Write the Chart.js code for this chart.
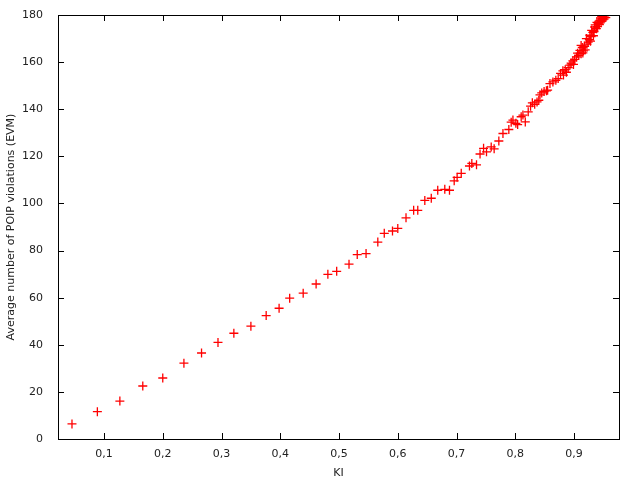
<!DOCTYPE html>
<html>
<head>
<meta charset="utf-8">
<script src="https://cdn.jsdelivr.net/npm/chart.js@4"></script>
<style>
  html, body { margin: 0; padding: 0; background: #fff; }
  #wrap { width: 640px; height: 480px; }
</style>
</head>
<body>
<div id="wrap"><canvas id="chart"></canvas></div>
<script>
// KI values and the average number of POIP violations (EVM)
const kiValues = [
  0.0455, 0.0887, 0.127, 0.166, 0.200, 0.236, 0.266, 0.294, 0.321, 0.350,
  0.376, 0.398, 0.416, 0.439, 0.461, 0.481, 0.496, 0.517, 0.531, 0.546,
  0.566, 0.577, 0.591, 0.600, 0.614, 0.627, 0.634, 0.646, 0.657, 0.668,
  0.680, 0.688, 0.696, 0.701, 0.708, 0.722, 0.726, 0.734, 0.740, 0.746,
  0.751, 0.759, 0.764, 0.772, 0.779, 0.789, 0.793, 0.796, 0.801, 0.804,
  0.810, 0.813, 0.817, 0.822, 0.826, 0.829, 0.833, 0.837, 0.840, 0.842,
  0.845, 0.849, 0.853, 0.855, 0.859, 0.864, 0.869, 0.873, 0.877, 0.881,
  0.882, 0.885, 0.887, 0.890, 0.893, 0.895, 0.898, 0.899, 0.901, 0.904,
  0.906, 0.908, 0.910, 0.912, 0.912, 0.914, 0.915, 0.916, 0.918, 0.919,
  0.921, 0.922, 0.924, 0.926, 0.927, 0.928, 0.929, 0.930, 0.932, 0.933,
  0.934, 0.935, 0.936, 0.938, 0.939, 0.940, 0.941, 0.942, 0.943, 0.944,
  0.945, 0.946, 0.947, 0.948, 0.949, 0.950, 0.951, 0.952, 0.953, 0.954,
  0.955
];
const evmValues = [
  6.4, 11.6, 16.1, 22.5, 25.9, 32.2, 36.5, 41.0, 44.9, 47.9,
  52.4, 55.5, 59.8, 61.9, 65.8, 69.9, 71.2, 74.2, 78.3, 78.7,
  83.6, 87.3, 88.3, 89.4, 93.9, 97.1, 97.1, 101.3, 102.2, 105.6,
  106.0, 105.6, 109.6, 111.1, 112.8, 115.9, 117.0, 116.4, 121.0, 123.4,
  121.9, 124.0, 123.2, 126.5, 129.7, 131.4, 134.5, 135.4, 134.0, 133.5,
  136.8, 137.5, 134.6, 138.9, 141.3, 142.7, 142.1, 143.1, 143.8, 146.1,
  146.9, 147.5, 147.8, 148.1, 150.9, 151.6, 152.3, 153.0, 155.2, 156.3,
  154.5, 156.8, 155.7, 157.7, 158.7, 159.6, 160.5, 159.0, 161.2, 162.2,
  163.8, 162.9, 165.0, 163.6, 167.1, 166.2, 163.9, 164.8, 166.7, 165.2,
  170.0, 167.6, 168.5, 169.5, 171.4, 168.9, 170.8, 173.5, 172.6, 171.2,
  173.0, 174.9, 175.8, 174.2, 176.9, 175.1, 176.3, 177.0, 175.9, 177.7,
  178.8, 177.2, 179.4, 178.5, 177.9, 179.6, 178.3, 179.1, 179.8, 178.9,
  180.0
];
const xTickValues = [0.1, 0.2, 0.3, 0.4, 0.5, 0.6, 0.7, 0.8, 0.9];
const yTickValues = [0, 20, 40, 60, 80, 100, 120, 140, 160, 180];

const textColor = '#222';
const font = { family: 'Verdana, "DejaVu Sans", sans-serif', size: 11 };

// gnuplot-style frame with inward ticks on all four sides
const framePlugin = {
  id: 'frame',
  afterDatasetsDraw(chart) {
    const { ctx, chartArea: a, scales: { x, y } } = chart;
    const len = 6;
    ctx.save();
    ctx.strokeStyle = '#000';
    ctx.lineWidth = 1;
    ctx.beginPath();
    xTickValues.forEach(v => {
      const px = Math.round(x.getPixelForValue(v)) + 0.5;
      ctx.moveTo(px, a.bottom); ctx.lineTo(px, a.bottom - len);
      ctx.moveTo(px, a.top); ctx.lineTo(px, a.top + len);
    });
    yTickValues.forEach(v => {
      const py = Math.round(y.getPixelForValue(v)) + 0.5;
      ctx.moveTo(a.left, py); ctx.lineTo(a.left + len, py);
      ctx.moveTo(a.right, py); ctx.lineTo(a.right - len, py);
    });
    ctx.stroke();
    ctx.strokeRect(Math.round(a.left) + 0.5, Math.round(a.top) + 0.5,
      Math.round(a.right - a.left), Math.round(a.bottom - a.top));
    ctx.restore();
  }
};

new Chart(document.getElementById('chart'), {
  type: 'scatter',
  data: {
    datasets: [{
      data: kiValues.map((k, i) => ({ x: k, y: evmValues[i] })),
      pointStyle: 'cross',
      radius: 4.5,
      borderColor: '#ff0000',
      backgroundColor: '#ff0000',
      borderWidth: 1.3
    }]
  },
  options: {
    responsive: true,
    maintainAspectRatio: false,
    animation: false,
    layout: { padding: { left: 0, right: 21, top: 15, bottom: 0 } },
    plugins: {
      legend: { display: false },
      tooltip: { enabled: false }
    },
    scales: {
      x: {
        type: 'linear',
        min: 0.0217,
        max: 0.9765,
        grid: { display: false },
        border: { display: false },
        afterBuildTicks: s => { s.ticks = xTickValues.map(v => ({ value: v })); },
        afterFit: s => { s.height = 41; },
        ticks: {
          color: textColor,
          font: font,
          padding: 1,
          maxRotation: 0,
          callback: v => v.toFixed(1).replace('.', ',')
        },
        title: {
          display: true,
          text: 'KI',
          color: textColor,
          font: font,
          padding: { top: 0, bottom: 0 }
        }
      },
      y: {
        type: 'linear',
        min: 0,
        max: 180,
        grid: { display: false },
        border: { display: false },
        afterBuildTicks: s => { s.ticks = yTickValues.map(v => ({ value: v })); },
        afterFit: s => { s.width = 58; },
        ticks: {
          color: textColor,
          font: font,
          padding: 7,
          callback: v => String(v)
        },
        title: {
          display: true,
          text: 'Average number of POIP violations (EVM)',
          color: textColor,
          font: font,
          padding: { top: 5, bottom: 0 }
        }
      }
    }
  },
  plugins: [framePlugin]
});
</script>
</body>
</html>
